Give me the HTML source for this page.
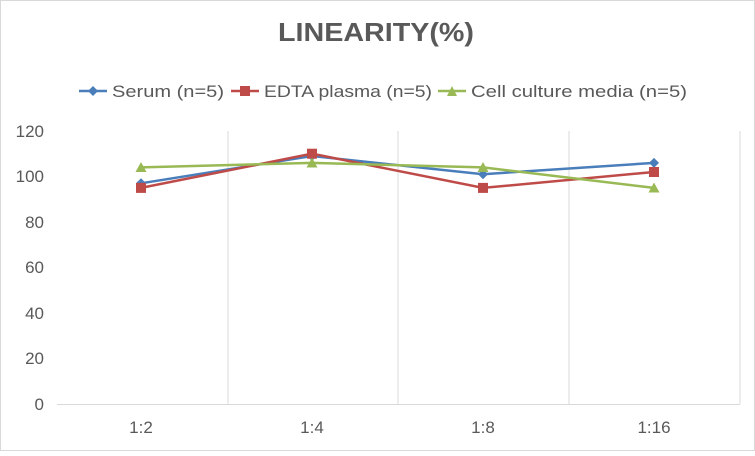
<!DOCTYPE html>
<html><head><meta charset="utf-8"><style>
html,body{margin:0;padding:0;background:#fff;}
</style></head><body>
<svg width="755" height="451" xmlns="http://www.w3.org/2000/svg" font-family="Liberation Sans, sans-serif">
<rect x="0.5" y="0.5" width="754" height="450" fill="#fff" stroke="#d9d9d9"/>
<text x="278" y="41" textLength="196" lengthAdjust="spacingAndGlyphs" font-size="26" font-weight="bold" fill="#595959">LINEARITY(%)</text>
<g font-size="17" fill="#595959">
<line x1="79" y1="91" x2="107" y2="91" stroke="#4a7ebb" stroke-width="2.5"/><path d="M93 86 L98 91 L93 96 L88 91Z" fill="#4a7ebb"/>
<text x="112" y="97" textLength="112" lengthAdjust="spacingAndGlyphs">Serum (n=5)</text>
<line x1="231" y1="91" x2="259" y2="91" stroke="#be4b48" stroke-width="2.5"/><rect x="240" y="86" width="10" height="10" fill="#be4b48"/>
<text x="264" y="97" textLength="168" lengthAdjust="spacingAndGlyphs">EDTA plasma (n=5)</text>
<line x1="438" y1="91" x2="466" y2="91" stroke="#98b954" stroke-width="2.5"/><path d="M452 86 L457 96 L447 96Z" fill="#98b954"/>
<text x="471" y="97" textLength="216" lengthAdjust="spacingAndGlyphs">Cell culture media (n=5)</text>
</g>
<g stroke="#d9d9d9" stroke-width="1">
<line x1="228" y1="131" x2="228" y2="404"/><line x1="398" y1="131" x2="398" y2="404"/><line x1="569" y1="131" x2="569" y2="404"/><line x1="740" y1="131" x2="740" y2="404"/>
<line x1="57" y1="404.5" x2="740" y2="404.5"/>
</g>
<g font-size="17" fill="#595959" text-anchor="end">
<text x="44" y="410">0</text><text x="44" y="364">20</text><text x="44" y="319">40</text><text x="44" y="273">60</text><text x="44" y="228">80</text><text x="44" y="182">100</text><text x="44" y="137">120</text>
</g>
<g font-size="17" fill="#595959" text-anchor="middle">
<text x="141" y="433">1:2</text><text x="312" y="433">1:4</text><text x="483" y="433">1:8</text><text x="654" y="433">1:16</text>
</g>
<polyline points="141,183.3 312,156 483,174.2 654,162.9" fill="none" stroke="#4a7ebb" stroke-width="2.5"/>
<polyline points="141,187.9 312,153.7 483,187.9 654,172" fill="none" stroke="#be4b48" stroke-width="2.5"/>
<polyline points="141,167.4 312,162.9 483,167.4 654,187.9" fill="none" stroke="#98b954" stroke-width="2.5"/>
<g fill="#4a7ebb">
<path d="M141 178.3l5 5-5 5-5-5z"/><path d="M312 151l5 5-5 5-5-5z"/><path d="M483 169.2l5 5-5 5-5-5z"/><path d="M654 157.9l5 5-5 5-5-5z"/>
</g>
<g fill="#be4b48">
<rect x="136" y="182.9" width="10" height="10"/><rect x="307" y="148.7" width="10" height="10"/><rect x="478" y="182.9" width="10" height="10"/><rect x="649" y="167" width="10" height="10"/>
</g>
<g fill="#98b954">
<path d="M141 162l5.5 10h-11z"/><path d="M312 157.5l5.5 10h-11z"/><path d="M483 162l5.5 10h-11z"/><path d="M654 182.5l5.5 10h-11z"/>
</g>
</svg>
</body></html>
